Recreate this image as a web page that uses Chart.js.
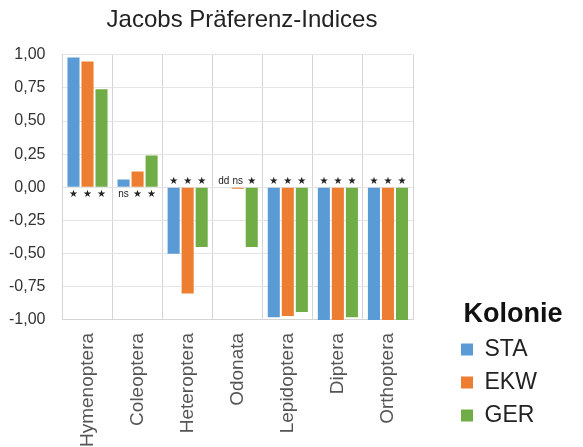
<!DOCTYPE html>
<html>
<head>
<meta charset="utf-8">
<script src="https://cdn.jsdelivr.net/npm/chart.js@4/dist/chart.umd.min.js"></script>
<style>
html,body{margin:0;padding:0;background:#fff;}
#wrap{width:583px;height:447px;}
</style>
</head>
<body>
<div id="wrap"><canvas id="c" width="583" height="447"></canvas></div>
<script>
const categories = ['Hymenoptera','Coleoptera','Heteroptera','Odonata','Lepidoptera','Diptera','Orthoptera'];
const seriesNames = ['STA','EKW','GER'];
const staValues = [0.98, 0.06, -0.50, 0, -0.98, -1.00, -1.00];
const ekwValues = [0.95, 0.12, -0.80, -0.01, -0.97, -1.00, -1.00];
const gerValues = [0.74, 0.24, -0.45, -0.45, -0.94, -0.98, -1.00];
const staMarks = ['★','ns','★','dd','★','★','★'];
const ekwMarks = ['★','★','★','ns','★','★','★'];
const gerMarks = ['★','★','★','★','★','★','★'];
const yTicks = [-1, -0.75, -0.5, -0.25, 0, 0.25, 0.5, 0.75, 1];

const colors = ['#5b9bd5','#ed7d31','#70ad47'];
const marks = [staMarks, ekwMarks, gerMarks];
const values = [staValues, ekwValues, gerValues];

const markPlugin = {
  id: 'marks',
  afterLayout(chart) {
    const L = chart.legend;
    if (!L) return;
    const h = L.height;
    L.left = 451; L.width = 124; L.right = L.left + L.width;
    L.bottom = 437; L.top = L.bottom - h;
  },
  afterDatasetsDraw(chart) {
    const ctx = chart.ctx;
    const y0 = chart.scales.y.getPixelForValue(0);
    ctx.save();
    ctx.textAlign = 'center';
    ctx.fillStyle = '#222';
    chart.data.datasets.forEach((ds, di) => {
      const meta = chart.getDatasetMeta(di);
      meta.data.forEach((el, i) => {
        const m = marks[di][i];
        const v = values[di][i];
        const isStar = m === '★';
        ctx.font = isStar ? '10px "DejaVu Sans"' : '10px "Liberation Sans"';
        if (v > 0) {
          ctx.textBaseline = 'top';
          ctx.fillText(m, el.x, y0 + 2);
        } else {
          ctx.textBaseline = 'bottom';
          ctx.fillText(m, el.x, y0 - 1);
        }
      });
    });
    ctx.restore();
  }
};

new Chart(document.getElementById('c'), {
  type: 'bar',
  data: {
    labels: categories,
    datasets: seriesNames.map((n, i) => ({
      label: n,
      data: values[i],
      backgroundColor: colors[i],
      borderWidth: 0,
      categoryPercentage: 0.84,
      barPercentage: 0.86
    }))
  },
  options: {
    responsive: false,
    animation: false,
    layout: { padding: { left: -8, right: 91, top: 6, bottom: -13 } },
    plugins: {
      title: {
        display: true,
        text: 'Jacobs Präferenz-Indices',
        color: '#222',
        font: { family: 'Liberation Sans', size: 24, weight: 'normal' },
        padding: { top: 0, bottom: 20 }
      },
      legend: {
        position: 'chartArea',
        align: 'end',
        title: {
          display: true,
          text: 'Kolonie',
          position: 'center',
          color: '#111',
          font: { family: 'Liberation Sans', size: 27, weight: 'bold' },
          padding: { top: 0, bottom: -5 }
        },
        labels: {
          boxWidth: 12,
          boxHeight: 12,
          padding: 10,
          color: '#222',
          font: { family: 'Liberation Sans', size: 23 }
        }
      },
      tooltip: { enabled: false }
    },
    scales: {
      x: {
        grid: { offset: true, color: '#d4d4d4', drawTicks: false },
        border: { color: '#d4d4d4' },
        ticks: {
          minRotation: 90, maxRotation: 90,
          padding: 13,
          color: '#555',
          font: { family: 'Liberation Sans', size: 19 }
        }
      },
      y: {
        min: -1, max: 1,
        afterBuildTicks(scale) { scale.ticks = yTicks.map(v => ({ value: v })); },
        grid: { color: '#e4e4e4', drawTicks: false },
        border: { color: '#d4d4d4' },
        ticks: {
          padding: 17,
          color: '#333',
          font: { family: 'Liberation Sans', size: 16 },
          callback: v => Number(v).toFixed(2).replace('.', ',')
        }
      },
      spacer: {
        position: 'right',
        display: true,
        grid: { display: false, drawTicks: false },
        border: { display: false },
        ticks: { display: false },
        afterFit(scale) { scale.width = 79; }
      }
    }
  },
  plugins: [markPlugin]
});
</script>
</body>
</html>
